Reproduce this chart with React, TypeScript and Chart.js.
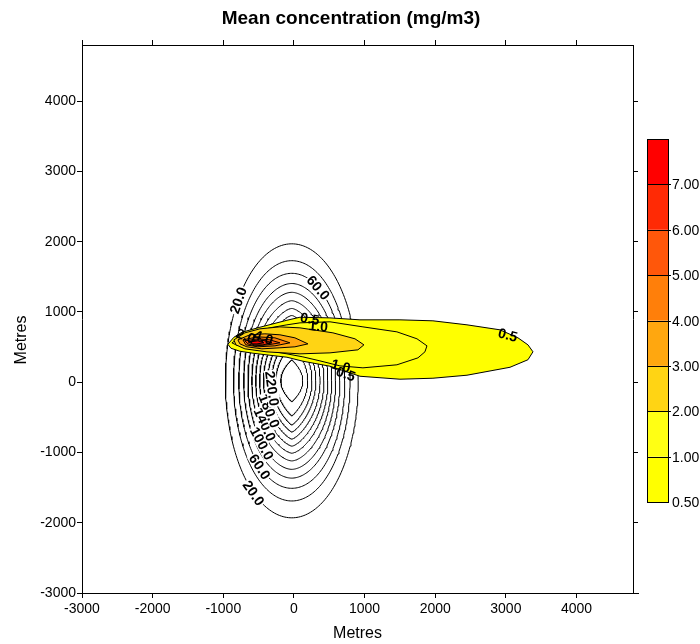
import React, { useEffect, useRef } from "react";
import { Chart, registerables } from "chart.js";

Chart.register(...registerables);

const FONT = "'Liberation Sans', Arial, Helvetica, sans-serif";

const AXIS_MIN = -3000;
const AXIS_MAX = 4800;
const xTickValues = [-3000, -2000, -1000, 0, 1000, 2000, 3000, 4000];
const yTickValues = [-3000, -2000, -1000, 0, 1000, 2000, 3000, 4000];

const chartTitle = "Mean concentration (mg/m3)";
const xTitle = "Metres";
const yTitle = "Metres";

// Elliptical (line) contour field, levels
const ringLevels = [20, 40, 60, 80, 100, 120, 140, 160, 180, 200, 220, 240, 260];
const ringSemiX = [940, 825, 750, 680, 620, 565, 510, 455, 400, 340, 285, 225, 155];
const ringSemiY = [1950, 1710, 1530, 1385, 1260, 1140, 1030, 930, 830, 730, 630, 500, 300];
const ringTip = [1, 1, 1, 1.05, 1.1, 1.2, 1.3, 1.4, 1.5, 1.6, 1.7, 1.8, 2];
const ringCentreX = -30;
const ringCentreY = 20;
const ringLabelRing = [0, 0, 2, 2, 4, 6, 8, 10];
const ringLabelAngle = [144, 235, 60, 233, 225, 217, 211, 190];

// Filled plume contours
const plumeLevels = [0.5, 1, 2, 3, 4, 5, 6, 7];
const plumeColours = ["#FFFF00", "#FFFF14", "#FFD414", "#FFA70F", "#FF7F0A", "#FF570A", "#FF2A05", "#FF0000"];
const colourbarTopColour = "#FF0000";

const plume05 = [
  [-935, 541], [-850, 640], [-736, 711], [-481, 783], [-99, 882], [85, 925], [510, 916], [935, 888],
  [1501, 888], [1968, 874], [2450, 817], [2917, 746], [3172, 632], [3313, 532], [3384, 433], [3313, 320],
  [3059, 213], [2450, 100], [1968, 57], [1501, 43], [935, 85], [722, 157], [510, 228], [127, 299],
  [-99, 356], [-340, 384], [-581, 413], [-765, 441], [-892, 484],
];
const plume1 = [
  [-878, 561], [-765, 632], [-581, 703], [-340, 774], [-99, 817], [85, 845], [510, 860], [977, 788],
  [1458, 717], [1742, 618], [1883, 518], [1855, 433], [1756, 347], [1458, 248], [977, 205], [651, 233],
  [368, 304], [127, 361], [-99, 404], [-439, 461], [-666, 504], [-821, 532],
];
const plume2 = [
  [-850, 603], [-694, 703], [-481, 760], [-198, 788], [85, 774], [552, 703], [864, 618], [991, 532],
  [906, 461], [510, 418], [85, 404], [-382, 432], [-694, 475], [-821, 532],
];
const plume3 = [
  [-793, 603], [-623, 675], [-411, 689], [-198, 675], [14, 632], [198, 546], [14, 504], [-198, 490],
  [-453, 475], [-666, 504], [-765, 546],
];
const plume4 = [[-722, 603], [-510, 646], [-269, 632], [-57, 561], [-269, 518], [-510, 504], [-680, 532]];
const plume5 = [[-694, 589], [-510, 618], [-340, 603], [-198, 561], [-368, 532], [-552, 518], [-651, 546]];
const plume6 = [[-651, 575], [-510, 603], [-396, 589], [-311, 561], [-439, 532], [-566, 532]];
const plume7 = [[-609, 575], [-510, 589], [-425, 561], [-524, 546], [-595, 546]];
const plumePolygons = [plume05, plume1, plume2, plume3, plume4, plume5, plume6, plume7];

const plumeLabelText = ["0.5", "1.0", "0.5", "1.0", "0.5", "2.0", "4.0"];
const plumeLabelX = [227, 345, 3030, 665, 736, -680, -430];
const plumeLabelY = [905, 800, 675, 233, 120, 660, 640];
const plumeLabelRot = [10, 5, 15, 15, 20, 20, 20];

function ringPoint(i: number, t: number) {
  const c = Math.cos(t);
  const s = Math.sin(t);
  return {
    x: ringCentreX + ringSemiX[i] * Math.sign(c) * Math.pow(Math.abs(c), ringTip[i]),
    y: ringCentreY + ringSemiY[i] * s,
  };
}

function ringPoints(i: number) {
  const pts: { x: number; y: number }[] = [];
  const n = 240;
  for (let k = 0; k <= n; k++) pts.push(ringPoint(i, (k * 2 * Math.PI) / n));
  return pts;
}

function polygonPoints(poly: number[][]) {
  const pts = poly.map(([x, y]) => ({ x, y }));
  pts.push({ x: poly[0][0], y: poly[0][1] });
  return pts;
}

const decorPlugin = {
  id: "decor",
  afterDatasetsDraw(chart: any) {
    const ctx = chart.ctx as CanvasRenderingContext2D;
    const xs = chart.scales.x;
    const ys = chart.scales.y;
    const area = chart.chartArea;
    ctx.save();
    ctx.beginPath();
    ctx.rect(area.left, area.top, area.right - area.left, area.bottom - area.top);
    ctx.clip();
    // ring labels
    ctx.font = `bold 14px ${FONT}`;
    ctx.textAlign = "center";
    ctx.textBaseline = "middle";
    for (let k = 0; k < ringLabelRing.length; k++) {
      const i = ringLabelRing[k];
      const t = (ringLabelAngle[k] * Math.PI) / 180;
      const p = ringPoint(i, t);
      const p2 = ringPoint(i, t + 0.01);
      const px = xs.getPixelForValue(p.x);
      const py = ys.getPixelForValue(p.y);
      const qx = xs.getPixelForValue(p2.x);
      const qy = ys.getPixelForValue(p2.y);
      let ang = Math.atan2(qy - py, qx - px);
      if (ang > Math.PI / 2) ang -= Math.PI;
      if (ang < -Math.PI / 2) ang += Math.PI;
      const txt = ringLevels[i].toFixed(1);
      const w = ctx.measureText(txt).width;
      ctx.save();
      ctx.translate(px, py);
      ctx.rotate(ang);
      ctx.fillStyle = "#fff";
      ctx.fillRect(-w / 2 - 1, -6, w + 2, 12);
      ctx.fillStyle = "#000";
      ctx.fillText(txt, 0, 1);
      ctx.restore();
    }
    // plume labels
    for (let k = 0; k < plumeLabelText.length; k++) {
      const px = xs.getPixelForValue(plumeLabelX[k]);
      const py = ys.getPixelForValue(plumeLabelY[k]);
      ctx.save();
      ctx.translate(px, py);
      ctx.rotate((plumeLabelRot[k] * Math.PI) / 180);
      ctx.fillStyle = "#000";
      ctx.fillText(plumeLabelText[k], 0, 1);
      ctx.restore();
    }
    ctx.restore();
  },
  afterDraw(chart: any) {
    const ctx = chart.ctx as CanvasRenderingContext2D;
    const area = chart.chartArea;
    ctx.save();
    // extended bottom axis line
    ctx.strokeStyle = "#000";
    ctx.lineWidth = 1;
    ctx.beginPath();
    ctx.moveTo(area.right, Math.round(area.bottom) + 0.5);
    ctx.lineTo(area.right + 6, Math.round(area.bottom) + 0.5);
    ctx.stroke();
    // titles
    ctx.fillStyle = "#000";
    ctx.textAlign = "center";
    ctx.textBaseline = "middle";
    ctx.font = `bold 19px ${FONT}`;
    ctx.fillText(chartTitle, 351, 19);
    ctx.font = `16px ${FONT}`;
    ctx.fillText(xTitle, (area.left + area.right) / 2, 634);
    ctx.save();
    ctx.translate(22, 340);
    ctx.rotate(-Math.PI / 2);
    ctx.fillText(yTitle, 0, 0);
    ctx.restore();
    // colour bar
    const left = 647;
    const right = 668;
    const top = 139;
    const bottom = 502;
    const n = plumeLevels.length;
    const h = (bottom - top) / n;
    const boxColours = [...plumeColours.slice(0, n - 1), colourbarTopColour];
    for (let i = 0; i < n; i++) {
      const y1 = bottom - (i + 1) * h;
      ctx.fillStyle = boxColours[i];
      ctx.fillRect(left, y1, right - left, h);
    }
    ctx.strokeStyle = "#000";
    ctx.lineWidth = 1;
    ctx.strokeRect(left + 0.5, top + 0.5, right - left, bottom - top);
    ctx.font = `14px ${FONT}`;
    ctx.textAlign = "left";
    ctx.fillStyle = "#000";
    for (let i = 0; i < n; i++) {
      const y = Math.round(bottom - i * h) + 0.5;
      if (i > 0) {
        ctx.beginPath();
        ctx.moveTo(left, y);
        ctx.lineTo(right + 3, y);
        ctx.stroke();
      }
      ctx.fillText(plumeLevels[i].toFixed(2), right + 4, y + 1);
    }
    ctx.restore();
  },
};

export default function App() {
  const canvasRef = useRef<HTMLCanvasElement | null>(null);

  useEffect(() => {
    if (!canvasRef.current) return;
    Chart.defaults.font.family = FONT;
    const datasets: any[] = [];
    ringLevels.forEach((lvl, i) => {
      datasets.push({
        label: `${lvl}`,
        data: ringPoints(i),
        borderColor: "#000",
        borderWidth: 1,
        pointRadius: 0,
        fill: false,
        tension: 0,
        order: 100,
      });
    });
    plumeLevels.forEach((lvl, j) => {
      datasets.push({
        label: `${lvl}`,
        data: polygonPoints(plumePolygons[j]),
        borderColor: "#000",
        borderWidth: 1,
        backgroundColor: plumeColours[j],
        pointRadius: 0,
        fill: "shape",
        tension: 0,
        order: 50 - j,
      });
    });

    const tickFont = { family: FONT, size: 14 };
    const axisCommon = (ticksArr: number[]) => ({
      type: "linear",
      min: AXIS_MIN,
      max: AXIS_MAX,
      afterBuildTicks: (s: any) => {
        s.ticks = ticksArr.map((v) => ({ value: v }));
      },
      grid: { drawOnChartArea: false, drawTicks: true, tickLength: 5, color: "#000", lineWidth: 1 },
      border: { display: true, color: "#000", width: 1 },
    });

    const chart = new Chart(canvasRef.current, {
      type: "line",
      data: { datasets },
      options: {
        animation: false,
        responsive: false,
        events: [],
        layout: { padding: 0 },
        plugins: { legend: { display: false }, tooltip: { enabled: false }, title: { display: false } },
        scales: {
          x: {
            ...axisCommon(xTickValues),
            position: "bottom",
            ticks: { font: tickFont, color: "#000", padding: 3, maxRotation: 0, autoSkip: false, callback: (v: any) => String(v) },
            afterFit: (s: any) => {
              s.height = 51;
            },
          },
          xTop: {
            ...axisCommon(xTickValues),
            position: "top",
            ticks: { display: false },
            afterFit: (s: any) => {
              s.height = 45;
            },
          },
          y: {
            ...axisCommon(yTickValues),
            position: "left",
            ticks: { font: tickFont, color: "#000", padding: 1, autoSkip: false, callback: (v: any) => String(v) },
            afterFit: (s: any) => {
              s.width = 82;
            },
          },
          yRight: {
            ...axisCommon(yTickValues),
            position: "right",
            ticks: { display: false },
            afterFit: (s: any) => {
              s.width = 67;
            },
          },
        } as any,
      },
      plugins: [decorPlugin],
    } as any);
    return () => chart.destroy();
  }, []);

  return (
    <div style={{ position: "absolute", left: 0, top: 0, width: 700, height: 644, background: "#fff" }}>
      <canvas ref={canvasRef} width={700} height={644} style={{ width: 700, height: 644, display: "block" }} />
    </div>
  );
}
